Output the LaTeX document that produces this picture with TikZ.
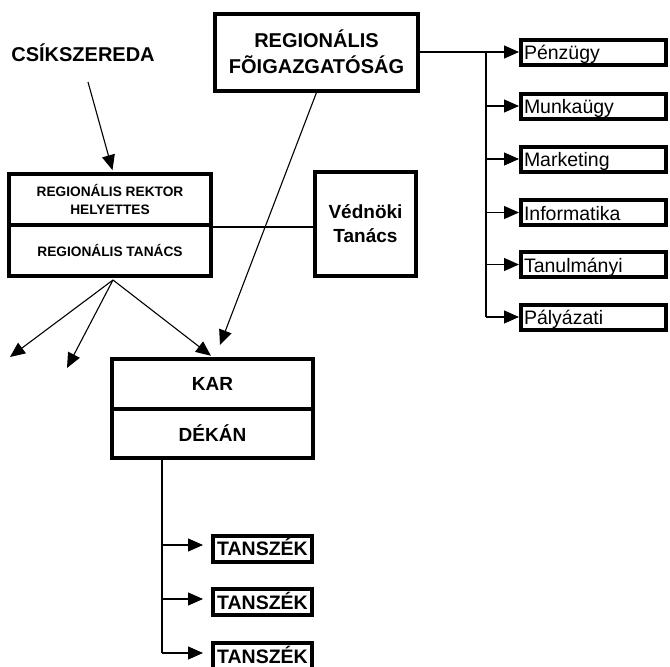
\documentclass[tikz,border=0pt]{standalone}
\usepackage{fontspec}
\setmainfont{Liberation Sans}
\usetikzlibrary{arrows.meta}
\begin{document}
\begin{tikzpicture}[x=1pt,y=-1pt,
  box/.style={draw, line width=4pt, inner sep=0pt, align=center},
  sub/.style={draw, line width=4pt, inner xsep=3pt, inner ysep=0pt, minimum width=145pt, minimum height=25pt, text width=139pt, align=left, text height=17pt, text depth=2pt, font=\fontsize{19.5}{22}\selectfont},
  tsz/.style={box, minimum width=99pt, minimum height=26pt, text height=14pt, text depth=0pt, font=\fontsize{19.5}{22}\selectfont\bfseries},
  arr/.style={-{Triangle[length=15pt,width=13pt]}, line width=1.1pt},
  ln/.style={line width=1.1pt},
  big/.style={font=\fontsize{20}{26}\selectfont\bfseries},
]
\useasboundingbox (0,0) rectangle (670,667);

% top box
\node[box, minimum width=203pt, minimum height=77pt, big] (fo) at (316.5,52) {REGIONÁLIS\\FÕIGAZGATÓSÁG};
\node[big] (csik) at (83,53) {CSÍKSZEREDA};

% rektor
\node[box, minimum width=202pt, minimum height=51pt, font=\fontsize{13.7}{18}\selectfont\bfseries] (rektor) at (110,199.5) {REGIONÁLIS REKTOR\\HELYETTES};
\node[box, minimum width=202pt, minimum height=51pt, font=\fontsize{13.7}{18}\selectfont\bfseries] (tanacs) at (110,250.5) {REGIONÁLIS TANÁCS};

% vednoki
\node[box, minimum width=101pt, minimum height=104pt, font=\fontsize{19}{24}\selectfont\bfseries] (ved) at (365.5,224) {Védnöki\\Tanács};

% right column
\node[sub] (pen) at (593.5,52) {Pénzügy};
\node[sub] (munka) at (593.5,106) {Munkaügy};
\node[sub] (mark) at (593.5,159) {Marketing};
\node[sub] (info) at (593.5,212.5) {Informatika};
\node[sub] (tanul) at (593.5,264.5) {Tanulmányi};
\node[sub] (pal) at (593.5,317) {Pályázati};

% kar
\node[box, minimum width=201pt, minimum height=49.5pt, font=\fontsize{19}{22}\selectfont\bfseries] (kar) at (212.5,383.75) {KAR};
\node[box, minimum width=201pt, minimum height=49.5pt, font=\fontsize{19}{22}\selectfont\bfseries] (dekan) at (212.5,433.25) {DÉKÁN};

% tanszek
\node[tsz] (t1) at (262.5,548.5) {TANSZÉK};
\node[tsz] (t2) at (262.5,602) {TANSZÉK};
\node[tsz] (t3) at (262.5,656) {TANSZÉK};

% connectors
\coordinate (c1) at (88,82);
\draw[arr, shorten >=2pt] (c1) -- ([xshift=3pt]rektor.north);

\coordinate (f1) at (10,357);
\coordinate (f2) at (67,368);
\coordinate (f3) at (220,345);
\draw[arr] ([xshift=3pt,yshift=-2pt]tanacs.south) -- (f1);
\draw[arr] ([xshift=3pt,yshift=-2pt]tanacs.south) -- (f2);
\draw[arr, shorten >=2pt] ([xshift=3pt,yshift=-2pt]tanacs.south) -- (kar.north);
\draw[arr] (fo.south) -- (f3);

\draw[ln] (rektor.south east) -- (rektor.south east -| ved.west);

\coordinate (tr) at (486,52);
\draw[arr] (fo.east) -- (pen.west);
\draw[ln] (tr) -- (tr |- pal.west);
\foreach \n in {munka,mark,info,tanul,pal}
  \draw[arr] (tr |- \n.west) -- (\n.west);

\coordinate (k1) at (162,545);
\coordinate (k2) at (162,599);
\coordinate (k3) at (162,653);
\draw[ln] (dekan.south -| k1) -- (k3);
\draw[arr, shorten >=8pt] (k1) -- (k1 -| t1.west);
\draw[arr, shorten >=8pt] (k2) -- (k2 -| t2.west);
\draw[arr, shorten >=8pt] (k3) -- (k3 -| t3.west);
\end{tikzpicture}
\end{document}
